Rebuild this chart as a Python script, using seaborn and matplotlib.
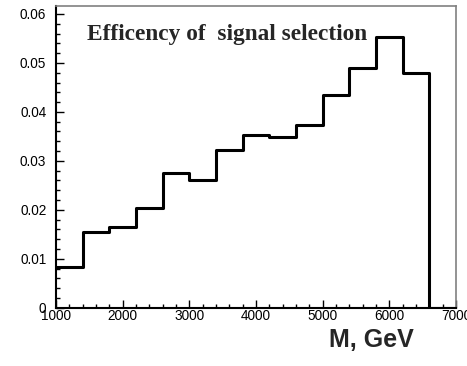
import numpy as np
import pandas as pd
import seaborn as sns
import matplotlib
matplotlib.use("Agg")
import matplotlib.pyplot as plt
from matplotlib.ticker import MultipleLocator

# Bin edges (GeV) and selection efficiency per bin
bin_edges = [1000, 1400, 1800, 2200, 2600, 3000, 3400, 3800, 4200,
             4600, 5000, 5400, 5800, 6200, 6600, 7000]
efficiency = [0.0084, 0.0155, 0.0166, 0.0204, 0.0276, 0.0261, 0.0323,
              0.0352, 0.0348, 0.0374, 0.0434, 0.0489, 0.0553, 0.0479, 0.0]
x_ticks = [1000, 2000, 3000, 4000, 5000, 6000, 7000]
y_ticks = [0, 0.01, 0.02, 0.03, 0.04, 0.05, 0.06]
y_tick_labels = ["0", "0.01", "0.02", "0.03", "0.04", "0.05", "0.06"]

edges = np.array(bin_edges, dtype=float)
df = pd.DataFrame({
    "mass": (edges[:-1] + edges[1:]) / 2,
    "eff": efficiency,
})

sns.set_style("ticks")
plt.rcParams["font.family"] = ["Liberation Sans", "DejaVu Sans"]

fig = plt.figure(figsize=(4.67, 3.66), dpi=100)
ax = fig.add_axes([0.12, 0.159, 0.8564, 0.8243])

sns.histplot(data=df, x="mass", weights="eff", bins=list(bin_edges),
             element="step", fill=False, color="black", linewidth=2.2, ax=ax)

ax.set_xlim(1000, 7000)
ax.set_ylim(0, 0.0616)
ax.set_xticks(x_ticks)
ax.set_xticklabels([str(t) for t in x_ticks])
ax.set_yticks(y_ticks)
ax.set_yticklabels(y_tick_labels)
ax.xaxis.set_minor_locator(MultipleLocator(200))
ax.yaxis.set_minor_locator(MultipleLocator(0.002))
ax.tick_params(which="both", direction="in", top=False, right=False,
               labelsize=9.8, colors="black")
ax.tick_params(axis="x", pad=1)
ax.tick_params(axis="y", pad=7)
ax.tick_params(which="major", length=6, width=1)
ax.tick_params(which="minor", length=3, width=1)
ax.set_xlabel("")
ax.set_ylabel("")

for side in ["left", "bottom"]:
    ax.spines[side].set_color("black")
    ax.spines[side].set_linewidth(1.5)
for side in ["top", "right"]:
    ax.spines[side].set_visible(True)
    ax.spines[side].set_color("#808080")
    ax.spines[side].set_linewidth(1.2)

ax.text(0.077, 0.887, "Efficency of  signal selection", transform=ax.transAxes,
        fontsize=16.8, fontweight="bold", family=["Liberation Serif", "DejaVu Serif"],
        ha="left", va="baseline")

fig.text(0.795, 0.07, "M, GeV", fontsize=18, fontweight="bold",
         ha="center", va="center")

fig.savefig("out.png", dpi=100)
